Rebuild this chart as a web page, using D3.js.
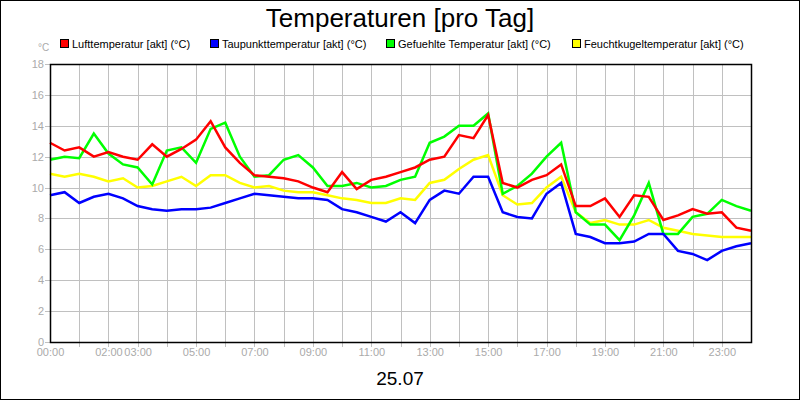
<!DOCTYPE html>
<html><head><meta charset="utf-8">
<script src="https://cdn.jsdelivr.net/npm/d3@7"></script>
<style>body{margin:0;background:#fff;font-family:"Liberation Sans",Arial,sans-serif}</style>
</head><body><svg id="chart" width="800" height="400"></svg>
<script>
// half-hourly readings, 00:00 .. 24:00
const hours = d3.range(0, 24.01, 0.5)
const luft = [12.9,12.4,12.6,12.0,12.3,12.0,11.8,12.8,12.0,12.5,13.1,14.3,12.6,11.6,10.8,10.7,10.6,10.4,10.0,9.7,11.0,9.9,10.5,10.7,
  11.0,11.3,11.8,12.0,13.4,13.2,14.7,10.3,10.0,10.5,10.8,11.5,8.8,8.8,9.3,8.1,9.5,9.4,7.9,8.2,8.6,8.3,8.4,7.4,7.2]
const taupunkt = [9.5,9.7,9.0,9.4,9.6,9.3,8.8,8.6,8.5,8.6,8.6,8.7,9.0,9.3,9.6,9.5,9.4,9.3,9.3,9.2,8.6,8.4,8.1,7.8,
  8.4,7.7,9.2,9.8,9.6,10.7,10.7,8.4,8.1,8.0,9.6,10.3,7.0,6.8,6.4,6.4,6.5,7.0,7.0,5.9,5.7,5.3,5.9,6.2,6.4]
const gefuehlt = [11.8,12.0,11.9,13.5,12.2,11.5,11.3,10.2,12.4,12.6,11.6,13.8,14.2,12.0,10.7,10.8,11.8,12.1,11.3,10.1,10.1,10.3,10.0,10.1,
  10.5,10.7,12.9,13.3,14.0,14.0,14.8,9.6,10.1,10.9,12.0,12.9,8.4,7.6,7.6,6.6,8.2,10.3,7.0,7.0,8.1,8.3,9.2,8.8,8.5]
const feucht = [10.9,10.7,10.9,10.7,10.4,10.6,10.0,10.1,10.4,10.7,10.1,10.8,10.8,10.3,10.0,10.1,9.8,9.7,9.7,9.5,9.3,9.2,9.0,9.0,
  9.3,9.2,10.3,10.5,11.2,11.8,12.1,9.5,8.9,9.0,10.0,10.7,8.4,7.7,7.9,7.6,7.6,7.9,7.4,7.2,7.0,6.9,6.8,6.8,6.8]
const seriesNames = ["Lufttemperatur [akt] (°C)","Taupunkttemperatur [akt] (°C)","Gefuehlte Temperatur [akt] (°C)","Feuchtkugeltemperatur [akt] (°C)"]
const seriesColors = ["#ff0000","#0000ff","#00ff00","#ffff00"]
const xLabels = [0,2,3,5,7,9,11,13,15,17,19,21,23]
const yTicks = d3.range(0,19,2)

const svg = d3.select("#chart")
const pLeft = 50, pRight = 751, pTop = 64, pBottom = 342
const x = d3.scaleLinear().domain([0,24]).range([pLeft,pRight])
const y = d3.scaleLinear().domain([0,18]).range([pBottom,pTop])

svg.append("rect").attr("x",0.5).attr("y",0.5).attr("width",799).attr("height",399).attr("fill","#fff").attr("stroke","#000")
svg.append("text").attr("x",400).attr("y",27).attr("text-anchor","middle").style("font-size","26px").text("Temperaturen [pro Tag]")

// grid
const grid = svg.append("g").attr("stroke","#c0c0c0").attr("stroke-width",1)
d3.range(1,24).forEach(h => grid.append("line").attr("x1",Math.round(x(h))+0.5).attr("x2",Math.round(x(h))+0.5).attr("y1",pTop).attr("y2",pBottom+5))
yTicks.forEach(t => grid.append("line").attr("x1",pLeft-5).attr("x2",pRight).attr("y1",Math.round(y(t))+0.5).attr("y2",Math.round(y(t))+0.5))

// axes labels
const xAxis = d3.axisBottom(x).tickValues(xLabels).tickSize(0).tickPadding(6)
  .tickFormat(d => String(d).padStart(2,"0") + ":00")
svg.append("g").attr("transform",`translate(0,${pBottom})`).call(xAxis)
  .call(g => g.select(".domain").remove())
  .selectAll("text").attr("fill","#aaa").style("font-size","11px").style("font-family","Liberation Sans")
const yAxis = d3.axisLeft(y).tickValues(yTicks).tickSize(0).tickPadding(6)
svg.append("g").attr("transform",`translate(${pLeft},0)`).call(yAxis)
  .call(g => g.select(".domain").remove())
  .selectAll("text").attr("fill","#aaa").style("font-size","11px").style("font-family","Liberation Sans")
svg.append("text").attr("x",38).attr("y",51).attr("fill","#aaa").style("font-size","10px").text("°C")

// lines, drawn back to front
const plot = svg.append("g")
const line = d3.line().x((d,i) => x(hours[i])).y(d => y(d))
const drawOrder = [[feucht,3],[gefuehlt,2],[luft,0],[taupunkt,1]]
drawOrder.forEach(([vals,ci]) => {
  plot.append("path").datum(vals).attr("d",line).attr("fill","none").attr("stroke",seriesColors[ci]).attr("stroke-width",2.5)
})

// frame
svg.append("rect").attr("x",pLeft+0.5).attr("y",pTop+0.5).attr("width",pRight-pLeft).attr("height",pBottom-pTop)
  .attr("fill","none").attr("stroke","#000").attr("stroke-width",1.5)

// legend
const legX = [60,210,386,572]
seriesNames.forEach((n,i) => {
  svg.append("rect").attr("x",legX[i]+0.5).attr("y",39.5).attr("width",8).attr("height",8).attr("fill",seriesColors[i]).attr("stroke","#000")
  svg.append("text").attr("x",legX[i]+12).attr("y",48).style("font-size","11px").text(n)
})

svg.append("text").attr("x",400).attr("y",385).attr("text-anchor","middle").style("font-size","19px").text("25.07")
</script></body></html>
